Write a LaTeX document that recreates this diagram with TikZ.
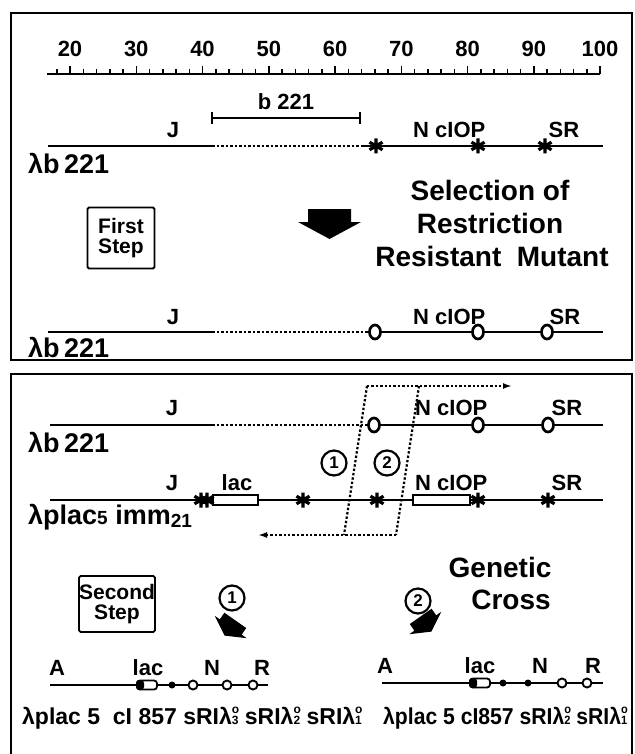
\documentclass[tikz,border=0pt]{standalone}
\usepackage{fontspec}
\setmainfont{Liberation Sans}
\newfontfamily\condsans[FakeStretch=0.92]{Liberation Sans}
\usetikzlibrary{arrows.meta,shapes.geometric}
\newcommand{\fs}[1]{\fontsize{#1}{#1}\selectfont\bfseries}
\newcommand{\sri}[1]{sRIλ\rlap{\raisebox{0.48em}{\fontsize{12}{12}\selectfont o}}{\fontsize{12}{12}\selectfont #1}}
\tikzset{
  frame/.style={line width=2},
  gene/.style={line width=2.8},
  dotl/.style={line width=2.8, dash pattern=on 2.6pt off 1.9pt},
  cross/.style={line width=2.2, dash pattern=on 2.4pt off 2pt},
  lbl/.style={font=\fs{22}, inner sep=0},
  big/.style={font=\fs{27}, inner sep=0, anchor=west},
  head/.style={font=\fs{28}, inner sep=0},
  ocirc/.style={ellipse, draw, line width=2.7, fill=white, minimum width=11pt, minimum height=14pt, inner sep=0},
  stepbox/.style={draw, line width=1.8, rounded corners=1.5, align=center, font=\fs{21}, inner sep=0},
  numc/.style={circle, draw, line width=2.2, minimum size=25pt, inner sep=0, font=\fs{17}},
  sopen/.style={circle, draw, line width=1.9, fill=white, minimum size=9pt, inner sep=0},
  sdot/.style={circle, fill, minimum size=7pt, inner sep=0},
  genebox/.style={draw, line width=2, fill=white},
  fatarrow/.pic={\fill (-21.5,-15)--(21.5,-15)--(21.5,-2)--(31.5,-2)--(0,15)--(-31.5,-2)--(-21.5,-2)--cycle;},
  xmark/.pic={\draw[line width=3.2] (0,-7.5)--(0,7.5) (-6.5,-3.8)--(6.5,3.8) (-6.5,3.8)--(6.5,-3.8);},
  tipr/.style={-{Latex[length=9pt,width=6pt]}}
}
\begin{document}
\begin{tikzpicture}[x=1pt,y=-1pt]
\useasboundingbox (0,0) rectangle (634,754);
\fill[white] (0,0) rectangle (634,754);

% ---------------- top panel ----------------
\draw[frame] (11,13) rectangle (632,360);

% ruler
\coordinate (r0) at (46.8,74);
\coordinate (r1) at (600,74);
\draw[line width=1.8] (r0) -- (r1);
\foreach \v in {18,20,...,100}{
  \pgfmathsetmacro{\xx}{70+(\v-20)*6.625}
  \pgfmathsetmacro{\hh}{ifthenelse(mod(\v,10)==0,8,4.5)}
  \draw[line width=1.5] (\xx,74) -- (\xx,{74-\hh});
}
\foreach \v in {20,30,...,100}{
  \pgfmathsetmacro{\xx}{70+(\v-20)*6.625}
  \node[lbl] (n\v) at (\xx,49) {\v};
}

% b221 bracket
\coordinate (bl) at (212,118);
\coordinate (br) at (360,118);
\draw[line width=1.6] (bl) -- (br);
\draw[line width=1.6] ([yshift=-6pt]bl) -- ([yshift=6pt]bl);
\draw[line width=1.6] ([yshift=-6pt]br) -- ([yshift=6pt]br);
\node[lbl] (b221) at (286,102) {b 221};

% line A
\coordinate (a0) at (48,146);
\coordinate (a1) at (212,146);
\coordinate (a2) at (362,146);
\coordinate (a3) at (603,146);
\draw[gene] (a0) -- (a1);
\draw[dotl] (a1) -- (a2);
\draw[gene] (a2) -- (a3);
\pic at (376,146) {xmark};
\pic at (478,146) {xmark};
\pic at (545,146) {xmark};
\node[lbl] (aJ) at (173,130) {J};
\node[lbl, anchor=west] (aN) at (413,130) {N cIOP};
\node[lbl] (aSR) at (564,130) {SR};
\node[big] (aname) at (28,163) {λb\,221};

% heading
\node[head] (sel1) at (490,190) {Selection of};
\node[head] (sel2) at (490,223) {Restriction};
\node[head] (sel3) at (492,256) {Resistant\ \ Mutant};
\pic at (329.5,224) {fatarrow};

\node[stepbox, minimum width=67pt, minimum height=61pt] (step1) at (121,238) {First\\[-1pt]Step};

% line B
\coordinate (b0) at (48,332);
\coordinate (b1) at (212,332);
\coordinate (b2) at (368,332);
\coordinate (b3) at (603,332);
\draw[gene] (b0) -- (b1);
\draw[dotl] (b1) -- (b2);
\draw[gene] (b2) -- (b3);
\node[ocirc] (bo1) at (375,332) {};
\node[ocirc] (bo2) at (478,332) {};
\node[ocirc] (bo3) at (547,332) {};
\node[lbl] (bJ) at (173,317) {J};
\node[lbl, anchor=west] (bN) at (413,317) {N cIOP};
\node[lbl] (bSR) at (565,317) {SR};
\node[big] (bname) at (28,347) {λb\,221};

% ---------------- bottom panel ----------------
\draw[frame] (11,756) -- (11,374) -- (632,374) -- (632,756);

% line C
\coordinate (c0) at (50,425);
\coordinate (c1) at (212,425);
\coordinate (c2) at (366,425);
\coordinate (c3) at (603,425);
\draw[gene] (c0) -- (c1);
\draw[dotl] (c1) -- (c2);
\draw[gene] (c2) -- (c3);
\node[ocirc] (co1) at (374,425) {};
\node[ocirc] (co2) at (478,425) {};
\node[ocirc] (co3) at (548,425) {};
\node[lbl] (cJ) at (172,408) {J};
\node[lbl, anchor=west] (cN) at (415,408) {N cIOP};
\node[lbl] (cSR) at (567,408) {SR};
\node[big] (cname) at (28,442) {λb\,221};

% line D
\coordinate (d0) at (50,500);
\coordinate (d1) at (603,500);
\draw[gene] (d0) -- (d1);
\draw[genebox] (213,495) rectangle (258,505);
\draw[genebox] (413,495) rectangle (470,505);
\pic at (201,500) {xmark};
\pic at (207,500) {xmark};
\pic at (303,500) {xmark};
\pic at (377,500) {xmark};
\pic at (478,500) {xmark};
\pic at (548,500) {xmark};
\node[lbl] (dJ) at (172,483) {J};
\node[lbl] (dlac) at (237,483) {lac};
\node[lbl, anchor=west] (dN) at (415,483) {N cIOP};
\node[lbl] (dSR) at (567,483) {SR};
\node[big] (dname) at (28,517) {λplac{\fs{19}5} imm\raisebox{-3pt}{\fs{19}21}};

% crossover paths
\coordinate (p1) at (367,386);
\coordinate (p2) at (419,386);
\coordinate (p3) at (396,535);
\coordinate (p4) at (344,535);
\coordinate (pe) at (512,386);
\coordinate (pw) at (258,535);
\draw[cross] (p1) -- (p4);
\draw[cross] (p2) -- (p3);
\draw[cross, tipr] (p1) -- (pe);
\draw[cross, tipr] (p3) -- (pw);
\node[numc] (x1) at (334,463) {1};
\node[numc] (x2) at (387,463) {2};

% second step
\node[stepbox, minimum width=75pt, minimum height=56pt] (step2) at (117,604) {Second\\[-1pt]Step};
\node[head] (gen1) at (500,567) {Genetic};
\node[head] (gen2) at (511,600) {Cross};
\node[numc] (o1) at (232,598) {1};
\node[numc] (o2) at (418,601) {2};
\pic[rotate=-35, scale=0.62] at (230,628) {fatarrow};
\pic[rotate=35, scale=0.62] at (426,624) {fatarrow};

% bottom left map
\coordinate (e0) at (50,685);
\coordinate (e1) at (268,685);
\draw[gene, line width=2.3] (e0) -- (e1);
\draw[genebox, line width=1.8, rounded corners=3] (137,680.5) rectangle (157,689.5);
\fill[rounded corners=3] (136,680) rectangle (144,690);
\node[sdot] (ed1) at (172,685) {};
\node[sopen] (eo1) at (193,685) {};
\node[sopen] (eo2) at (227,685) {};
\node[sopen] (eo3) at (253,685) {};
\node[lbl] (eA) at (57,668) {A};
\node[lbl] (elac) at (148,668) {lac};
\node[lbl] (eN) at (212,668) {N};
\node[lbl] (eR) at (262,668) {R};
\node[lbl, font=\fs{23}, anchor=west] (etext) at (22,718) {λplac 5\ \ cI 857 \sri{3} \sri{2} \sri{1}};

% bottom right map
\coordinate (f0) at (382,683);
\coordinate (f1) at (603,683);
\draw[gene, line width=2.3] (f0) -- (f1);
\draw[genebox, line width=1.8, rounded corners=3] (470,678.5) rectangle (490,687.5);
\fill[rounded corners=3] (469,678) rectangle (477,688);
\node[sdot] (fd1) at (503,683) {};
\node[sdot] (fd2) at (528,683) {};
\node[sopen] (fo1) at (562,683) {};
\node[sopen] (fo2) at (587,683) {};
\node[lbl] (fA) at (385,666) {A};
\node[lbl] (flac) at (480,666) {lac};
\node[lbl] (fN) at (540,666) {N};
\node[lbl] (fR) at (593,666) {R};
\node[lbl, font=\condsans\fs{23}, anchor=west] (ftext) at (383,718) {λplac 5 cI857 \sri{2} \sri{1}};
\end{tikzpicture}
\end{document}
